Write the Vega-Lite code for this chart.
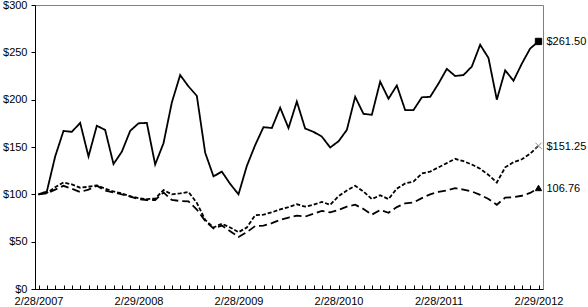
{
  "$schema": "https://vega.github.io/schema/vega-lite/v6.json",
  "width": 508,
  "height": 284,
  "autosize": "none",
  "padding": {"left": 35, "top": 5, "right": 45, "bottom": 18},
  "background": "white",
  "config": {
    "view": {"stroke": "#808080", "strokeWidth": 1},
    "font": "Liberation Sans",
    "axis": {"labelFont": "Liberation Sans", "labelFontSize": 11, "labelColor": "black", "domainColor": "black", "tickColor": "black", "grid": false, "title": null}
  },
  "datasets": {
    "series": [
      {"m":0,"c":100,"p":100,"x":100},
      {"m":1,"c":103,"p":101.5,"x":101},
      {"m":2,"c":140,"p":107.5,"x":105},
      {"m":3,"c":167,"p":112.5,"x":109},
      {"m":4,"c":166,"p":110.5,"x":106},
      {"m":5,"c":175.5,"p":107,"x":102.5},
      {"m":6,"c":140,"p":108,"x":105},
      {"m":7,"c":172.5,"p":109.5,"x":109},
      {"m":8,"c":168,"p":106,"x":104},
      {"m":9,"c":132,"p":103,"x":102},
      {"m":10,"c":145,"p":101,"x":100},
      {"m":11,"c":167,"p":98,"x":97.5},
      {"m":12,"c":175,"p":96,"x":95},
      {"m":13,"c":175.5,"p":95,"x":94},
      {"m":14,"c":131.5,"p":95.5,"x":94},
      {"m":15,"c":154,"p":104.5,"x":102},
      {"m":16,"c":197,"p":100,"x":94},
      {"m":17,"c":226,"p":101,"x":93},
      {"m":18,"c":214,"p":102.5,"x":92.5},
      {"m":19,"c":204,"p":91,"x":84},
      {"m":20,"c":144,"p":73,"x":72},
      {"m":21,"c":119,"p":65,"x":64},
      {"m":22,"c":124,"p":69,"x":67},
      {"m":23,"c":111,"p":65,"x":61},
      {"m":24,"c":100,"p":60,"x":55},
      {"m":25,"c":130,"p":65,"x":60},
      {"m":26,"c":152,"p":78,"x":66.5},
      {"m":27,"c":171,"p":78.5,"x":67},
      {"m":28,"c":170,"p":81,"x":69.5},
      {"m":29,"c":191.5,"p":84,"x":73},
      {"m":30,"c":170,"p":86.5,"x":75.5},
      {"m":31,"c":198,"p":89.5,"x":77.5},
      {"m":32,"c":169.5,"p":87,"x":76.5},
      {"m":33,"c":166,"p":89,"x":79.5},
      {"m":34,"c":161,"p":92,"x":82.5},
      {"m":35,"c":149.5,"p":89,"x":81},
      {"m":36,"c":156,"p":98,"x":83.5},
      {"m":37,"c":168,"p":104,"x":87},
      {"m":38,"c":203,"p":109,"x":89},
      {"m":39,"c":185,"p":103,"x":84.5},
      {"m":40,"c":184,"p":95,"x":78.5},
      {"m":41,"c":219,"p":99,"x":83.5},
      {"m":42,"c":201,"p":95,"x":80.5},
      {"m":43,"c":215,"p":106,"x":86.5},
      {"m":44,"c":189,"p":111.5,"x":90.5},
      {"m":45,"c":189,"p":113.5,"x":91.5},
      {"m":46,"c":202.5,"p":122,"x":96},
      {"m":47,"c":203,"p":124,"x":100},
      {"m":48,"c":217,"p":128.5,"x":102.5},
      {"m":49,"c":232.5,"p":133,"x":104},
      {"m":50,"c":225,"p":137.5,"x":106.5},
      {"m":51,"c":226,"p":135,"x":105},
      {"m":52,"c":235,"p":131.5,"x":103},
      {"m":53,"c":258,"p":127,"x":99.5},
      {"m":54,"c":244,"p":120.5,"x":95},
      {"m":55,"c":200,"p":112.5,"x":89},
      {"m":56,"c":231,"p":128.5,"x":96.5},
      {"m":57,"c":220,"p":134,"x":97},
      {"m":58,"c":238,"p":137,"x":98.5},
      {"m":59,"c":254,"p":143,"x":101.5},
      {"m":60,"c":261.5,"p":151.25,"x":106.76}
    ],
    "ends": [
      {"m":60,"s":"c","v":261.5,"label":"$261.50"},
      {"m":60,"s":"p","v":151.25,"label":"$151.25"},
      {"m":60,"s":"x","v":106.76,"label":"106.76"}
    ]
  },
  "encoding": {
    "x": {
      "field": "m", "type": "quantitative",
      "scale": {"domain": [-0.42, 60.54], "nice": false, "zero": false},
      "axis": {
        "values": [0,1,2,3,4,5,6,7,8,9,10,11,12,13,14,15,16,17,18,19,20,21,22,23,24,25,26,27,28,29,30,31,32,33,34,35,36,37,38,39,40,41,42,43,44,45,46,47,48,49,50,51,52,53,54,55,56,57,58,59,60],
        "labelExpr": "datum.value == 0 ? '2/28/2007' : datum.value == 12 ? '2/29/2008' : datum.value == 24 ? '2/28/2009' : datum.value == 36 ? '2/28/2010' : datum.value == 48 ? '2/28/2011' : datum.value == 60 ? '2/29/2012' : ''",
        "labelOverlap": false,
        "labelFlush": false,
        "tickSize": -4,
        "labelPadding": 10
      }
    },
    "y": {
      "field": "v", "type": "quantitative",
      "scale": {"domain": [0, 300], "nice": false},
      "axis": {"values": [0,50,100,150,200,250,300], "labelExpr": "'$' + datum.value", "tickSize": 4, "labelPadding": 4}
    }
  },
  "layer": [
    {
      "data": {"name": "series"},
      "transform": [{"fold": ["c", "p", "x"], "as": ["s", "v"]}],
      "mark": {"type": "line", "color": "black", "strokeWidth": 1.8},
      "encoding": {
        "detail": {"field": "s", "type": "nominal"},
        "strokeDash": {"field": "s", "type": "nominal", "scale": {"domain": ["c","p","x"], "range": [[1,0],[4,2],[8,4]]}, "legend": null}
      }
    },
    {
      "data": {"name": "ends"},
      "mark": {"type": "point", "size": 40, "strokeWidth": 1, "opacity": 1},
      "encoding": {
        "shape": {"field": "s", "type": "nominal", "scale": {"domain": ["c","p","x"], "range": ["square", "M-1,-1L1,1M-1,1L1,-1", "triangle-up"]}, "legend": null},
        "fill": {"field": "s", "type": "nominal", "scale": {"domain": ["c","p","x"], "range": ["black", "transparent", "black"]}, "legend": null},
        "stroke": {"field": "s", "type": "nominal", "scale": {"domain": ["c","p","x"], "range": ["black", "#8c8c8c", "black"]}, "legend": null}
      }
    },
    {
      "data": {"name": "ends"},
      "mark": {"type": "text", "align": "left", "baseline": "middle", "dx": 8, "dy": 1, "fontSize": 11, "font": "Liberation Sans", "color": "black"},
      "encoding": {"text": {"field": "label", "type": "nominal"}}
    }
  ]
}
